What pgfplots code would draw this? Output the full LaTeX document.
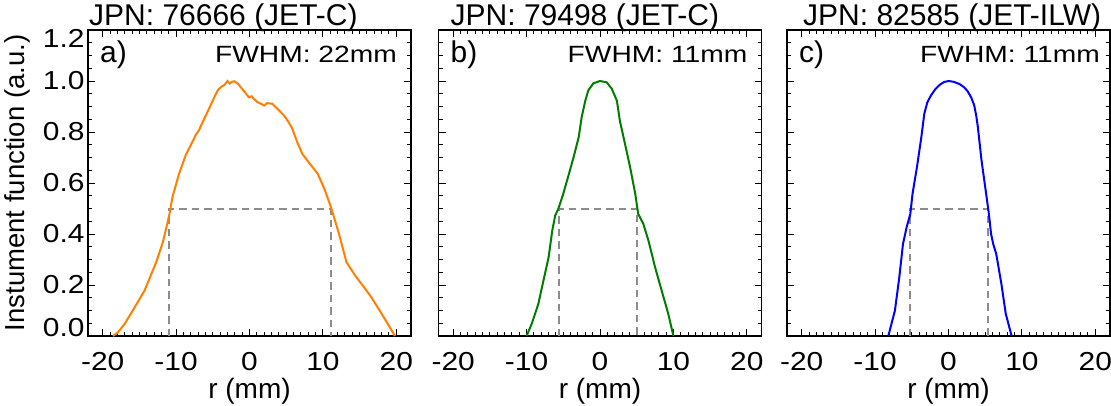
\documentclass[border=0pt]{standalone}
\usepackage{fontspec}
\setmainfont{Liberation Sans}
\newfontfamily\widefont{Liberation Sans}[FakeStretch=1.15]
\newfontfamily\fwfont{Liberation Sans}[FakeStretch=1.2]
\usepackage{pgfplots}
\pgfplotsset{compat=1.18}

\definecolor{corange}{RGB}{255,127,0}
\definecolor{cgreen}{RGB}{0,125,0}
\definecolor{cblue}{RGB}{0,0,255}
\definecolor{cdash}{RGB}{140,140,140}

\newcommand{\tickfont}{\widefont\fontsize{26}{30}\selectfont}
\newcommand{\titlefont}{\fontsize{30}{35}\selectfont}
\newcommand{\fwhmfont}{\fwfont\fontsize{23.5}{27}\selectfont}

\pgfplotsset{
  panel/.style={
    scale only axis, width=323pt, height=306pt, anchor=north west,
    xmin=-22, xmax=22, ymin=0, ymax=1.2,
    xtick={-20,-10,0,10,20}, xticklabels={-20,-10,0,10,20},
    ytick={0,0.2,0.4,0.6,0.8,1.0,1.2},
    minor x tick num=9, minor y tick num=3,
    tick align=inside, tick pos=both,
    major tick length=7pt, minor tick length=4pt,
    axis line style={line width=1.3pt},
    every tick/.style={black, line width=1pt},
    tick label style={font=\tickfont},
    xticklabel style={yshift=-13pt},
    xlabel={r (mm)},
    xlabel style={font=\fontsize{28}{33}\selectfont, at={(axis description cs:0.5,-0.18)}, anchor=center},
    title style={font=\titlefont, at={(axis description cs:0,1)}, anchor=base west, inner sep=0pt, yshift=-1pt},
  },
  curve/.style={line width=2pt, no marks},
  fwhm/.style={cdash, line width=2pt, dash pattern=on 7.5pt off 5pt, no marks},
}
\tikzset{
  tag/.style={anchor=base west, inner sep=0pt, font=\titlefont, xshift=12pt, yshift=-32pt},
  fw/.style={anchor=base east, inner sep=0pt, font=\fwhmfont, yshift=-32pt},
}

\begin{document}
\begin{tikzpicture}[x=1pt,y=1pt]
\path[use as bounding box] (0,0) rectangle (1111,-405);

% a) JPN 76666
\begin{axis}[panel, at={(88pt,-30pt)},
  title={JPN: 76666 (JET-C)}, title style={xshift=1pt},
  yticklabels={{\raisebox{8pt}[\height][\depth]{0.0}},0.2,0.4,0.6,0.8,1.0,{\raisebox{-8pt}[\height][\depth]{1.2}}},
  ylabel={Instument function (a.u.)},
  ylabel style={font=\fontsize{27.5}{32}\selectfont, at={(axis description cs:-0.22,0.5)}, anchor=center},
]
\addplot[fwhm] coordinates {(-10.9,0) (-10.9,0.5) (11.1,0.5) (11.1,0)};
\addplot[curve, corange] coordinates {
  (-18.6,0.0) (-17.9,0.015) (-17.0,0.048) (-15.9,0.10) (-14.3,0.178)
  (-12.7,0.29) (-11.8,0.368) (-11.2,0.44) (-10.9,0.479) (-10.5,0.544)
  (-9.6,0.636) (-8.7,0.708) (-7.8,0.76) (-7.3,0.79) (-6.9,0.806)
  (-6.6,0.825) (-5.7,0.88) (-4.8,0.936) (-4.3,0.965) (-3.9,0.976)
  (-3.4,0.985) (-3.0,1.0) (-2.7,0.99) (-2.4,0.997) (-2.1,0.999)
  (-1.6,0.99) (-1.2,0.976) (-0.6,0.955) (-0.1,0.936) (0.3,0.94)
  (0.6,0.93) (1.1,0.917) (1.6,0.91) (2.0,0.904) (2.4,0.913)
  (3.1,0.911) (3.8,0.891) (4.7,0.865) (5.3,0.84) (5.8,0.815)
  (6.5,0.76) (7.2,0.714) (8.1,0.68) (9.3,0.636) (10.2,0.577)
  (11.1,0.505) (12.2,0.40) (13.2,0.29) (14.4,0.237) (15.5,0.195)
  (16.6,0.152) (18.0,0.087) (19.1,0.035) (19.8,0.0)
};
\node[tag] at (rel axis cs:0,1) {a)};
\node[fw, xshift=-14pt] at (rel axis cs:1,1) {FWHM: 22mm};
\end{axis}

% b) JPN 79498
\begin{axis}[panel, at={(438.5pt,-30pt)},
  title={JPN: 79498 (JET-C)}, title style={xshift=12pt},
  yticklabels={},
]
\addplot[fwhm] coordinates {(-5.65,0) (-5.65,0.5) (5.1,0.5) (5.1,0)};
\addplot[curve, cgreen] coordinates {
  (-10.0,0) (-9.3,0.048) (-8.4,0.126) (-7.7,0.218) (-7.0,0.309)
  (-6.5,0.414) (-6.1,0.473) (-5.7,0.497) (-5.0,0.558) (-4.3,0.629)
  (-3.6,0.701) (-2.9,0.78) (-2.5,0.858) (-2.0,0.923) (-1.6,0.963)
  (-0.9,0.991) (0,1.0) (0.9,0.995) (1.6,0.97) (2.3,0.923)
  (2.7,0.845) (3.4,0.754) (4.1,0.662) (4.8,0.558) (5.2,0.479)
  (5.9,0.44) (6.6,0.374) (7.5,0.27) (8.4,0.178) (9.3,0.087) (10.0,0)
};
\node[tag] at (rel axis cs:0,1) {b)};
\node[fw, xshift=-14pt] at (rel axis cs:1,1) {FWHM: 11mm};
\end{axis}

% c) JPN 82585
\begin{axis}[panel, at={(787pt,-30pt)},
  title={JPN: 82585 (JET-ILW)}, title style={xshift=16pt},
  yticklabels={},
]
\addplot[fwhm] coordinates {(-5.2,0) (-5.2,0.5) (5.4,0.5) (5.4,0)};
\addplot[curve, cblue] coordinates {
  (-8.2,0) (-7.3,0.10) (-6.7,0.231) (-6.2,0.361) (-5.7,0.427)
  (-5.2,0.479) (-4.9,0.558) (-4.3,0.662) (-3.7,0.78) (-3.3,0.871)
  (-2.9,0.915) (-2.4,0.943) (-1.8,0.968) (-1.2,0.985) (-0.6,0.996)
  (0,1.0) (0.7,0.997) (1.5,0.988) (2.1,0.976) (2.6,0.96)
  (3.1,0.935) (3.5,0.905) (3.8,0.86) (4.0,0.819) (4.5,0.688)
  (5.0,0.584) (5.5,0.479) (5.8,0.40) (6.1,0.36) (6.5,0.322)
  (7.2,0.205) (7.8,0.087) (8.6,0)
};
\node[tag] at (rel axis cs:0,1) {c)};
\node[fw, xshift=-10pt] at (rel axis cs:1,1) {FWHM: 11mm};
\end{axis}
\end{tikzpicture}
\end{document}
